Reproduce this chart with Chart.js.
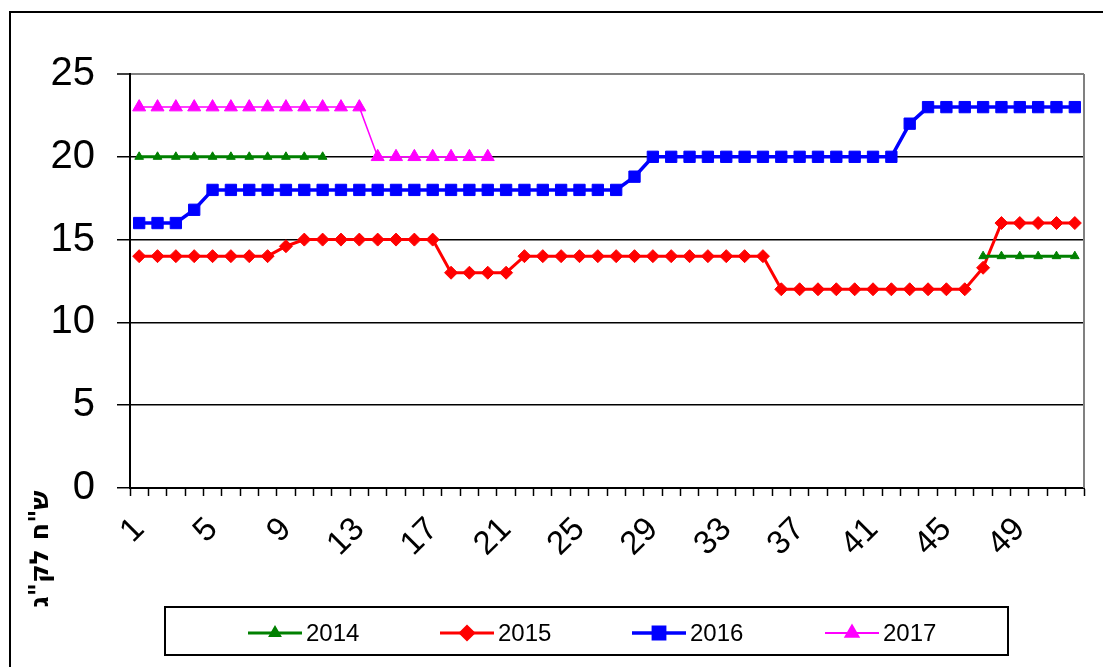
<!DOCTYPE html>
<html>
<head>
<meta charset="utf-8">
<script src="https://cdn.jsdelivr.net/npm/chart.js@4/dist/chart.umd.min.js"></script>
<style>
html,body{margin:0;padding:0;background:#fff;}
canvas{display:block;}
</style>
</head>
<body>
<canvas id="c" width="1103" height="667"></canvas>
<script>
const weeks = ['1','2','3','4','5','6','7','8','9','10','11','12','13','14','15','16','17','18','19','20','21','22','23','24','25','26','27','28','29','30','31','32','33','34','35','36','37','38','39','40','41','42','43','44','45','46','47','48','49','50','51','52'];
const yTicks = [0, 5, 10, 15, 20, 25];
const seriesNames = ['2014', '2015', '2016', '2017'];
const s2014 = [20,20,20,20,20,20,20,20,20,20,20,null,null,null,null,null,null,null,null,null,null,null,null,null,null,null,null,null,null,null,null,null,null,null,null,null,null,null,null,null,null,null,null,null,null,null,14,14,14,14,14,14];
const s2015 = [14,14,14,14,14,14,14,14,14.6,15,15,15,15,15,15,15,15,13,13,13,13,14,14,14,14,14,14,14,14,14,14,14,14,14,14,12,12,12,12,12,12,12,12,12,12,12,13.3,16,16,16,16,16];
const s2016 = [16,16,16,16.8,18,18,18,18,18,18,18,18,18,18,18,18,18,18,18,18,18,18,18,18,18,18,18,18.8,20,20,20,20,20,20,20,20,20,20,20,20,20,20,22,23,23,23,23,23,23,23,23,23];
const s2017 = [23,23,23,23,23,23,23,23,23,23,23,23,23,20,20,20,20,20,20,20,null,null,null,null,null,null,null,null,null,null,null,null,null,null,null,null,null,null,null,null,null,null,null,null,null,null,null,null,null,null,null,null];
const yTitle = 'ש"ח לק"ג';

const styles = [
  {color:'#008000', width:3, style:'triangle', radius:5},
  {color:'#FF0000', width:3, style:'rectRot', radius:6.5},
  {color:'#0000FF', width:3.5, style:'rect', radius:8},
  {color:'#FF00FF', width:1.5, style:'triangle', radius:7.5}
];
const allData = [s2014, s2015, s2016, s2017];

const datasets = allData.map((d, i) => ({
  label: seriesNames[i],
  data: d,
  borderColor: styles[i].color,
  backgroundColor: styles[i].color,
  borderWidth: styles[i].width,
  pointStyle: styles[i].style,
  pointRadius: styles[i].radius,
  pointHoverRadius: styles[i].radius,
  pointBorderWidth: 1,
  pointBorderColor: styles[i].color,
  pointBackgroundColor: styles[i].color,
  tension: 0,
  spanGaps: false
}));

const decor = {
  id: 'decor',
  afterDraw(chart) {
    const ctx = chart.ctx;
    const a = chart.chartArea;
    ctx.save();
    // right plot border (gray)
    ctx.strokeStyle = '#808080';
    ctx.lineWidth = 2;
    ctx.beginPath();
    ctx.moveTo(a.right, a.top);
    ctx.lineTo(a.right, a.bottom);
    ctx.stroke();
    // outer frame
    ctx.strokeStyle = '#000';
    ctx.lineWidth = 2;
    ctx.strokeRect(10, 12, 1100, 680);
    // y title
    ctx.save();
    ctx.translate(41, 549);
    ctx.rotate(-Math.PI / 2);
    ctx.font = 'bold 26px "DejaVu Sans", sans-serif';
    ctx.fillStyle = '#000';
    ctx.textAlign = 'center';
    ctx.textBaseline = 'middle';
    ctx.direction = 'rtl';
    const w = ctx.measureText(yTitle).width;
    const sx = 117 / w;
    ctx.scale(sx, 1);
    ctx.fillText(yTitle, 0, 0);
    ctx.restore();
    // legend box
    ctx.strokeStyle = '#000';
    ctx.lineWidth = 2;
    ctx.strokeRect(165, 607, 843, 48);
    const xs = [248, 440, 632, 825];
    const ly = 633;
    ctx.font = '24px "Liberation Sans", Arial, sans-serif';
    ctx.textBaseline = 'middle';
    ctx.textAlign = 'left';
    chart.data.datasets.forEach((ds, i) => {
      const x0 = xs[i];
      ctx.strokeStyle = ds.borderColor;
      ctx.lineWidth = Math.max(ds.borderWidth, 2);
      ctx.beginPath();
      ctx.moveTo(x0, ly);
      ctx.lineTo(x0 + 54, ly);
      ctx.stroke();
      Chart.helpers.drawPoint(ctx, {pointStyle: ds.pointStyle, radius: ds.pointRadius, rotation: 0, borderWidth: 1}, x0 + 27, ly);
      ctx.fillStyle = ds.backgroundColor;
      ctx.fill();
      ctx.fillStyle = '#000';
      ctx.fillText(ds.label, x0 + 58, ly + 1);
    });
    ctx.restore();
  }
};

new Chart(document.getElementById('c'), {
  type: 'line',
  data: { labels: weeks, datasets },
  plugins: [decor],
  options: {
    responsive: false,
    animation: false,
    events: [],
    layout: { padding: { left: 0, right: 19, top: 74, bottom: 0 } },
    plugins: { legend: { display: false }, tooltip: { enabled: false } },
    scales: {
      x: {
        type: 'category',
        offset: true,
        afterFit(s) { s.height = 667 - 488; s.paddingLeft = 0; s.paddingRight = 0; },
        grid: { drawOnChartArea: false, drawTicks: true, tickLength: 8, tickColor: '#000', tickWidth: 1.5, offset: true },
        border: { color: '#000', width: 2 },
        ticks: {
          autoSkip: false,
          maxRotation: 45,
          minRotation: 45,
          padding: 14,
          color: '#000',
          font: { family: '"Liberation Sans", Arial, sans-serif', size: 33 },
          callback(v, i) { return i % 4 === 0 ? weeks[i] : ''; }
        }
      },
      y: {
        min: 0,
        max: 25,
        afterFit(s) { s.width = 130; },
        afterBuildTicks(s) { s.ticks = yTicks.map(v => ({ value: v })); },
        grid: {
          color: ctx => ctx.tick && ctx.tick.value === 25 ? '#808080' : '#000',
          lineWidth: ctx => ctx.tick && ctx.tick.value === 25 ? 2 : 1.5,
          tickLength: 13,
          tickColor: '#000',
          tickWidth: 1.5
        },
        border: { color: '#000', width: 2 },
        ticks: {
          stepSize: 5,
          padding: 22,
          color: '#000',
          font: { family: '"Liberation Sans", Arial, sans-serif', size: 40 }
        }
      }
    }
  }
});
</script>
</body>
</html>
